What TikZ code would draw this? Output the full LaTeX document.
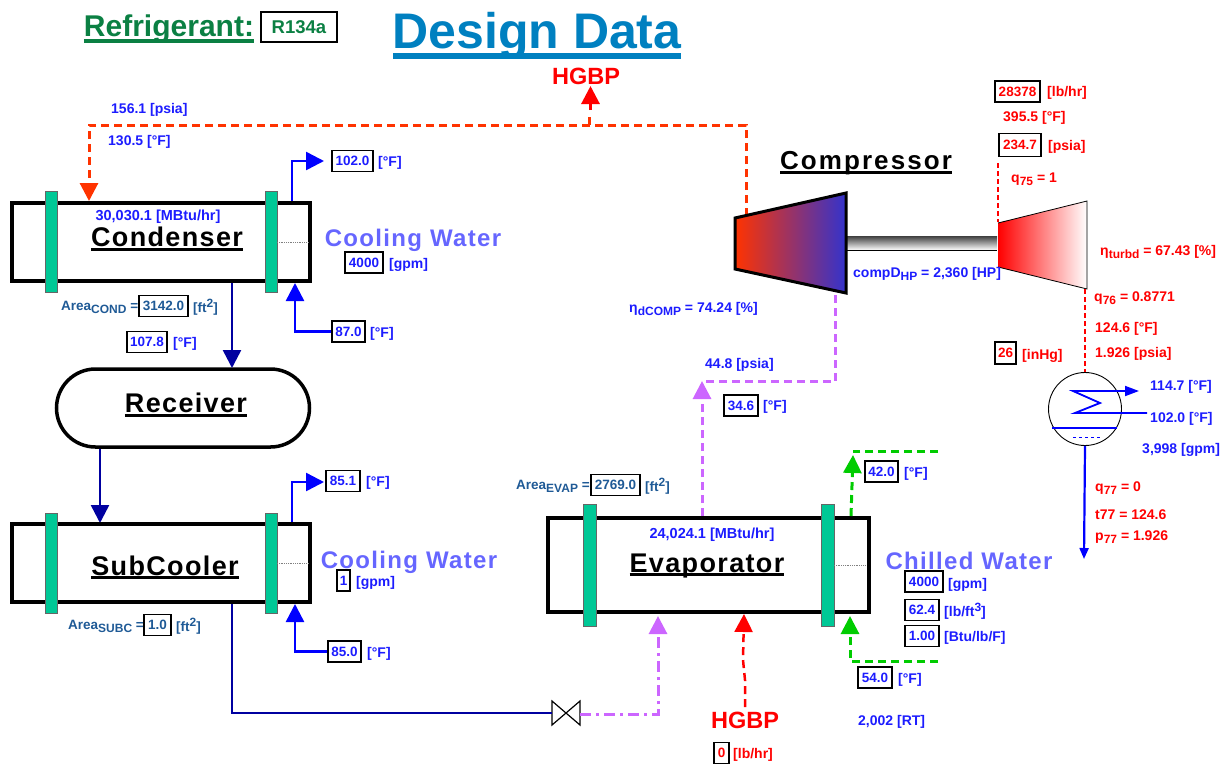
\documentclass[tikz,border=0pt]{standalone}
\usepackage{fontspec}
\setmainfont{Liberation Sans}
\usetikzlibrary{arrows.meta,shapes.misc}
\definecolor{flowblue}{HTML}{1C1CFF}
\definecolor{areablue}{HTML}{1F5A96}
\definecolor{pipeblue}{HTML}{0000FF}
\definecolor{pipenavy}{HTML}{0000A0}
\definecolor{hotred}{HTML}{FF3300}
\definecolor{bypassred}{HTML}{FF0000}
\definecolor{suctionpurple}{HTML}{CC66FF}
\definecolor{chillgreen}{HTML}{00CC00}
\definecolor{bafflegreen}{HTML}{00C896}
\definecolor{titleblue}{HTML}{0080C0}
\definecolor{refgreen}{HTML}{0B8043}
\definecolor{waterblue}{HTML}{6666FF}
\definecolor{compblue}{HTML}{3333CC}
\newcommand{\thickul}[3]{\leavevmode\setbox0=\hbox{#3}\rlap{\raisebox{-#1}{\rule{\wd0}{#2}}}\box0}
\newcommand{\lowtxt}[1]{\raisebox{-3pt}{\fontsize{12}{12}\selectfont #1}}
\newcommand{\hitxt}[1]{\raisebox{5pt}{\fontsize{12}{12}\selectfont #1}}
\tikzset{
  valtxt/.style={font=\fontsize{14}{15}\selectfont\bfseries,inner sep=0pt,text=flowblue,anchor=west,yshift=-1.5pt},
  redtxt/.style={font=\fontsize{14}{15}\selectfont\bfseries,inner sep=0pt,text=bypassred,anchor=west,yshift=-1.5pt},
  areatxt/.style={font=\fontsize{13.5}{15}\selectfont\bfseries,inner sep=0pt,text=areablue,anchor=west,yshift=-1pt},
  valbox/.style={draw=black,line width=1.1pt,fill=white,inner sep=0pt,minimum height=21pt,
    font=\fontsize{13.5}{15}\selectfont\bfseries,text=flowblue},
  redbox/.style={valbox,text=bypassred},
  areabox/.style={valbox,text=areablue},
  heading/.style={font=\fontsize{27}{30}\selectfont\bfseries\addfontfeature{LetterSpace=5},inner sep=0pt,anchor=base},
  waterlabel/.style={font=\fontsize{24}{26}\selectfont\bfseries\addfontfeature{LetterSpace=5.5},inner sep=0pt,text=waterblue},
  vessel/.style={draw=black,line width=4pt,fill=white,inner sep=0pt,minimum width=298pt,minimum height=78pt},
  baffle/.style={fill=bafflegreen,draw=black!60,line width=0.8pt},
  bighead/.style={-{Triangle[length=18pt,width=18pt]}},
  waterpipe/.style={draw=pipeblue,line width=2.5pt,bighead},
  navypipe/.style={draw=pipenavy,line width=2.5pt},
  hotline/.style={draw=hotred,line width=3pt,dash pattern=on 8pt off 5pt},
  purpleline/.style={draw=suctionpurple,line width=3pt,dash pattern=on 8pt off 5pt},
  greenline/.style={draw=chillgreen,line width=3pt,dash pattern=on 8pt off 5pt},
  redline/.style={draw=bypassred,line width=1.8pt,dash pattern=on 5pt off 3pt}
}
\begin{document}
\begin{tikzpicture}[x=1pt,y=-1pt]
  \useasboundingbox (0,0) rectangle (1228,764);

  % ---- Titles ----
  \node[heading,font=\fontsize{30}{32}\selectfont\bfseries,text=refgreen] (refTitle) at (169,36)
    {\thickul{6.5pt}{3.4pt}{Refrigerant:}};
  \node[valbox,minimum width=76pt,minimum height=30pt,text=refgreen,font=\fontsize{18.5}{20}\selectfont\bfseries] (refBox) at (299,27) {R134a\hspace{18pt}};
  \node[heading,font=\fontsize{50}{52}\selectfont\bfseries,text=titleblue] (designTitle) at (537,48)
    {\thickul{10.5pt}{5.5pt}{Design Data}};

  % ---- Condenser ----
  \node[vessel] (condenser) at (161,242) {};
  \filldraw[baffle] (45,191) rectangle (57,292);
  \filldraw[baffle] (265,191) rectangle (277,292);
  \draw[black!50,densely dotted,line width=0.8pt] (277,242) -- (308,242);
  \node[heading] (condLabel) at (167,246) {\thickul{4.5pt}{2.2pt}{Condenser}};
  \node[valtxt,anchor=center,font=\fontsize{14.5}{15}\selectfont\bfseries] (condDuty) at (158,215) {30,030.1 [MBtu/hr]};
  \coordinate (condHotIn) at (89,201);
  \coordinate (condOutBot) at (232,283);
  \coordinate (condWaterOut) at (292,201);
  \coordinate (condWaterIn) at (295,283);
  \node[valbox,minimum width=41pt] (condOutT) at (352.5,161) {102.0};
  \node[valtxt] (condOutTU) at (378,161) {[°F]};
  \node[valbox,minimum width=33pt] (condInT) at (348.5,331.5) {87.0};
  \node[valtxt] (condInTU) at (370,332) {[°F]};
  \node[waterlabel] (condWater) at (413,240) {Cooling Water};
  \node[valbox,minimum width=38pt] (condFlow) at (364,262.5) {4000};
  \node[valtxt] (condFlowU) at (389,263) {[gpm]};
  \node[areatxt] (condArea) at (61,306) {Area\lowtxt{COND} =};
  \node[areabox,minimum width=49pt] (condAreaV) at (163.5,306) {3142.0};
  \node[areatxt] (condAreaU) at (193,306) {[ft\hitxt{2}]};
  \node[valbox,minimum width=40pt] (liqT) at (147,342) {107.8};
  \node[valtxt] (liqTU) at (173,342) {[°F]};
  \draw[waterpipe] (condWaterOut) |- (324,161);
  \draw[waterpipe] (condInT.west) -| (condWaterIn);

  % ---- Hot gas line ----
  \node[font=\fontsize{23.5}{25}\selectfont\bfseries,text=bypassred,inner sep=0pt] (hgbpTop) at (586,76) {HGBP};
  \node[valtxt] (hotP) at (111,108) {156.1 [psia]};
  \node[valtxt] (hotT) at (108,140) {130.5 [°F]};
  \coordinate (compOut) at (746,216);
  \coordinate (hgbpTee) at (589,125);
  \draw[hotline] (hgbpTee) -- (589,116);
  \draw[draw=bypassred,line width=3pt,bighead] (590.5,110) -- (590.5,86);
  \draw[hotline,bighead] (compOut) |- (89,125) -- (condHotIn);

  % ---- Receiver ----
  \node[draw=black,line width=3.5pt,fill=white,rounded rectangle,minimum width=253pt,minimum height=78pt,inner sep=0pt] (receiver) at (183,408) {};
  \node[heading] (recvLabel) at (186,412.5) {\thickul{4pt}{2.2pt}{Receiver}};
  \draw[navypipe,bighead] (condOutBot) -- (232,368);
  \draw[navypipe,bighead] (100,449) -- (100,523);

  % ---- SubCooler ----
  \node[vessel] (subcooler) at (161,563) {};
  \filldraw[baffle] (45,513) rectangle (57,613);
  \filldraw[baffle] (265,513) rectangle (277,613);
  \draw[black!50,densely dotted,line width=0.8pt] (277,563) -- (308,563);
  \node[heading] (subLabel) at (165,575) {\thickul{3.5pt}{2.2pt}{SubCooler}};
  \coordinate (subWaterOut) at (292,522);
  \coordinate (subWaterIn) at (295,604);
  \coordinate (subOutBot) at (232,604);
  \node[valbox,minimum width=34pt] (subOutT) at (343,481) {85.1};
  \node[valtxt] (subOutTU) at (366,481) {[°F]};
  \node[valbox,minimum width=33pt] (subInT) at (344.5,651.5) {85.0};
  \node[valtxt] (subInTU) at (367,652) {[°F]};
  \node[waterlabel] (subWater) at (409,562) {Cooling Water};
  \node[valbox,minimum width=13pt] (subFlow) at (343.5,580.5) {1};
  \node[valtxt] (subFlowU) at (356,581) {[gpm]};
  \node[areatxt] (subArea) at (68,625) {Area\lowtxt{SUBC} =};
  \node[areabox,minimum width=27pt] (subAreaV) at (157.5,625) {1.0};
  \node[areatxt] (subAreaU) at (176,625) {[ft\hitxt{2}]};
  \draw[waterpipe] (subWaterOut) |- (324,482);
  \draw[waterpipe] (subInT.west) -| (subWaterIn);

  % ---- Expansion valve ----
  \coordinate (valveIn) at (552,713);
  \coordinate (valveOut) at (580,714);
  \draw[black,line width=1.2pt,fill=white] (552,701) -- (580,725) -- (580,701) -- (552,725) -- cycle;
  \draw[navypipe] (subOutBot) |- (valveIn);

  % ---- Evaporator ----
  \node[draw=black,line width=4pt,fill=white,inner sep=0pt,minimum width=321pt,minimum height=94pt] (evaporator) at (708,565) {};
  \filldraw[baffle] (583,504) rectangle (596,626);
  \filldraw[baffle] (821,504) rectangle (834,626);
  \draw[black!50,densely dotted,line width=0.8pt] (834,565) -- (866,565);
  \node[heading] (evapLabel) at (707,572) {\thickul{3.5pt}{2.2pt}{Evaporator}};
  \node[valtxt,anchor=center,font=\fontsize{14.5}{15}\selectfont\bfseries] (evapDuty) at (712,533) {24,024.1 [MBtu/hr]};
  \coordinate (evapOutTop) at (702,516);
  \coordinate (evapInBot) at (658,616);
  \coordinate (evapHgbpIn) at (744,614);
  \coordinate (chillOut) at (851,516);
  \coordinate (chillIn) at (850,616);
  \node[areatxt] (evapArea) at (516,485) {Area\lowtxt{EVAP} =};
  \node[areabox,minimum width=49pt] (evapAreaV) at (615.5,485) {2769.0};
  \node[areatxt] (evapAreaU) at (645,485) {[ft\hitxt{2}]};
  \node[valbox,minimum width=33pt] (chillOutT) at (881.5,471.5) {42.0};
  \node[valtxt] (chillOutTU) at (904,472) {[°F]};
  \node[valbox,minimum width=34pt] (chillInT) at (875,677.5) {54.0};
  \node[valtxt] (chillInTU) at (898,678) {[°F]};
  \node[waterlabel] (chillWater) at (969,561) {Chilled Water};
  \node[valbox,minimum width=38pt] (chillFlow) at (924,581.5) {4000};
  \node[valtxt] (chillFlowU) at (948,583) {[gpm]};
  \node[valbox,minimum width=34pt] (chillRho) at (922,610) {62.4};
  \node[valtxt] (chillRhoU) at (944,610) {[lb/ft\hitxt{3}]};
  \node[valbox,minimum width=34pt] (chillCp) at (922,636) {1.00};
  \node[valtxt] (chillCpU) at (944,636) {[Btu/lb/F]};
  \node[valtxt] (chillRT) at (858,720) {2,002 [RT]};
  \node[font=\fontsize{23.5}{25}\selectfont\bfseries,text=bypassred,inner sep=0pt] (hgbpBot) at (745,720) {HGBP};
  \node[redbox,minimum width=15pt] (hgbpFlow) at (721.5,753) {0};
  \node[redtxt] (hgbpFlowU) at (733,753) {[lb/hr]};
  \draw[greenline,bighead] (chillOut) -- (853,455);
  \draw[greenline] (938,451) -- (853,451);
  \draw[greenline,bighead] (938,661) -| (chillIn);
  \draw[hotline,draw=bypassred,line width=2.5pt,bighead] (745,707) -- (745,680) -- (743,660) -- (evapHgbpIn);
  \draw[purpleline,bighead,dash pattern=on 11pt off 5pt on 3pt off 5pt] (valveOut) -| (evapInBot);
  \draw[purpleline,bighead] (evapOutTop) -- (702,381);

  % ---- Compressor and drive turbine ----
  \node[heading,font=\fontsize{26}{28}\selectfont\bfseries\addfontfeature{LetterSpace=8}] (compLabel) at (866,169) {\thickul{4.5pt}{2.2pt}{Compressor}};
  \shade[top color=black!75,bottom color=white] (847,236) rectangle (997,250);
  \draw[black,line width=1pt] (847,250.5) -- (997,250.5);
  \shadedraw[left color=hotred,right color=compblue,draw=black,line width=3pt]
    (735,218) -- (846,193) -- (846,293) -- (735,269) -- cycle;
  \shade[left color=red,right color=white] (998,223) -- (1087,201) -- (1087,289) -- (998,267) -- cycle;
  \draw[black,line width=0.8pt] (998,223) -- (1087,201) -- (1087,289) -- (998,267);
  \coordinate (compIn) at (835,295);
  \coordinate (turbIn) at (998,222);
  \coordinate (turbOut) at (1085,289);
  \coordinate (hotwellIn) at (1085,372);
  \draw[purpleline] (compIn) |- (702,381.5);
  \draw[redline] (998,163) -- (turbIn);
  \draw[redline] (turbOut) -- (hotwellIn);
  \node[valtxt] (compPower) at (853,272) {compD\lowtxt{HP} = 2,360 [HP]};
  \node[valtxt] (compEff) at (629,307) {η\lowtxt{dCOMP} = 74.24 [\%]};
  \node[valtxt] (sucP) at (705,363) {44.8 [psia]};
  \node[valbox,minimum width=34pt] (sucT) at (741,405.5) {34.6};
  \node[valtxt] (sucTU) at (763,405) {[°F]};

  % ---- Turbine data ----
  \node[redbox,minimum width=45pt] (turbFlow) at (1017.5,91.5) {28378};
  \node[redtxt] (turbFlowU) at (1047,91) {[lb/hr]};
  \node[redtxt] (turbT) at (1003,116) {395.5 [°F]};
  \node[redbox,minimum width=42pt,minimum height=23pt] (turbP) at (1020,145) {234.7};
  \node[redtxt] (turbPU) at (1048,145) {[psia]};
  \node[redtxt] (turbQ) at (1011,178) {q\lowtxt{75} = 1};
  \node[redtxt] (turbEff) at (1100,250) {η\lowtxt{turbd} = 67.43 [\%]};
  \node[redtxt] (exhQ) at (1094,297) {q\lowtxt{76} = 0.8771};
  \node[redtxt] (exhT) at (1095,327) {124.6 [°F]};
  \node[redtxt] (exhP) at (1095,352) {1.926 [psia]};
  \node[redbox,minimum width=21pt,minimum height=22pt] (vacBox) at (1005.5,353) {26};
  \node[redtxt] (vacU) at (1022,354) {[inHg]};

  % ---- Surface condenser ----
  \node[circle,draw=black,line width=0.9pt,minimum size=73pt,inner sep=0pt] (hotwell) at (1085,409) {};
  \draw[pipeblue,line width=1.8pt,-{Triangle[length=14pt,width=10pt]}] (1147,413) -- (1075,413) -- (1100,403) -- (1073,391) -- (1139,391);
  \draw[pipeblue,line width=2.2pt] (1052,428) -- (1117,428);
  \draw[pipeblue,line width=0.8pt,dashed] (1073,437) -- (1100,437);
  \draw[pipeblue,line width=2.2pt,-{Triangle[length=11pt,width=9pt]}] (hotwell.south) -- (1084,559);
  \node[valtxt] (cwOutT) at (1150,385) {114.7 [°F]};
  \node[valtxt] (cwInT) at (1150,417) {102.0 [°F]};
  \node[valtxt] (cwFlow) at (1142,448) {3,998 [gpm]};
  \node[redtxt] (hwQ) at (1095,487) {q\lowtxt{77} = 0};
  \node[redtxt] (hwT) at (1095,513) {t77 = 124.6};
  \node[redtxt] (hwP) at (1095,536) {p\lowtxt{77} = 1.926};
\end{tikzpicture}
\end{document}
